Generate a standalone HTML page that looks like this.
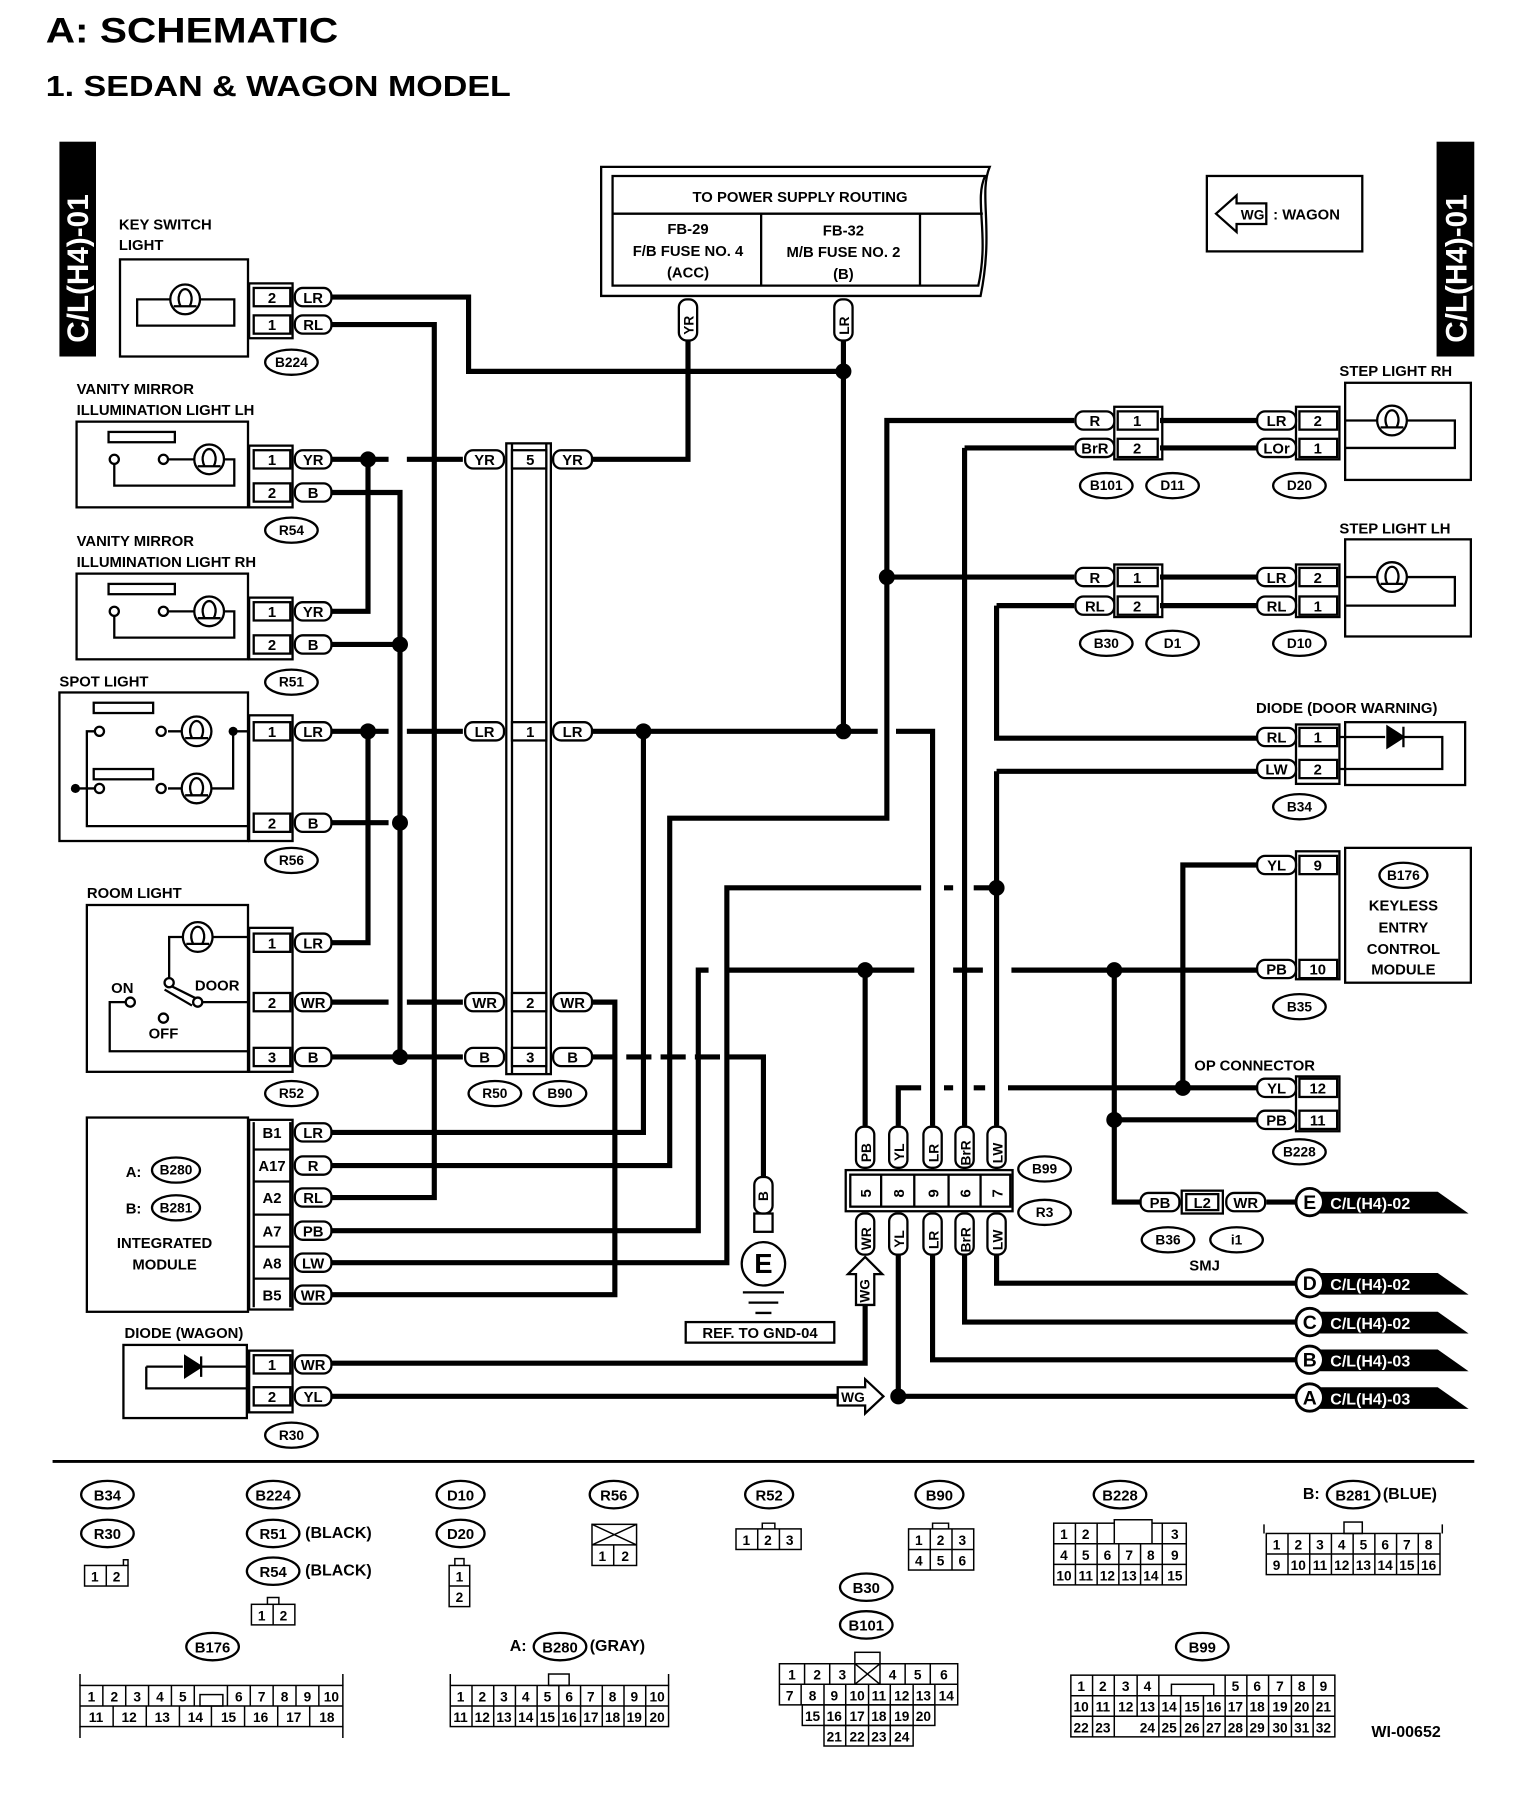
<!DOCTYPE html>
<html><head><meta charset="utf-8"><style>
html,body{margin:0;padding:0;background:#fff;width:1536px;height:1794px;overflow:hidden}
svg{display:block}
text{font-family:"Liberation Sans",sans-serif;font-weight:bold;fill:#000}
</style></head><body>
<svg width="1536" height="1794" viewBox="0 0 1344 1570" preserveAspectRatio="none" xmlns="http://www.w3.org/2000/svg">
<defs>
<g id="lamp"><circle r="13" fill="#fff" stroke="#000" stroke-width="2"/><path d="M-4,6 C-8,-2 -4,-9 0,-9 C4,-9 8,-2 4,6 M-10,6 H10" fill="none" stroke="#000" stroke-width="2"/></g>
</defs>
<text x="40" y="37" font-size="31" textLength="256" lengthAdjust="spacingAndGlyphs">A:  SCHEMATIC</text>
<text x="40" y="84" font-size="25" textLength="407" lengthAdjust="spacingAndGlyphs">1.  SEDAN &amp; WAGON MODEL</text>

<!-- side bars -->
<rect x="52" y="124" width="32" height="188" fill="#000"/>
<text transform="translate(77,300) rotate(-90)" font-size="26" style="fill:#fff">C/L(H4)-01</text>
<rect x="1257" y="124" width="33" height="188" fill="#000"/>
<text transform="translate(1283,300) rotate(-90)" font-size="26" style="fill:#fff">C/L(H4)-01</text>

<!-- power supply box -->
<g fill="none" stroke="#000" stroke-width="2">
<path d="M526,146 H866 C856,170 870,200 858,259 H526 Z"/>
<path d="M536,154 H862 C852,175 866,205 856,250 H536 Z"/>
<path d="M536,187 H860 M666,187 V250 M805,187 V250"/>
</g>
<g font-size="13" text-anchor="middle">
<text x="700" y="177">TO POWER SUPPLY ROUTING</text>
<text x="602" y="205">FB-29</text><text x="602" y="224">F/B FUSE NO. 4</text><text x="602" y="243">(ACC)</text>
<text x="738" y="206">FB-32</text><text x="738" y="225">M/B FUSE NO. 2</text><text x="738" y="244">(B)</text>
</g>

<!-- wagon legend -->
<rect x="1056" y="154" width="136" height="66" fill="none" stroke="#000" stroke-width="2"/>
<path d="M1064,187 L1082,171 V178 H1108 V196 H1082 V203 Z" fill="#fff" stroke="#000" stroke-width="2"/>
<text x="1096" y="192" font-size="12" text-anchor="middle">WG</text>
<text x="1114" y="192" font-size="13">: WAGON</text>

<!-- ===== WIRES ===== -->
<g fill="none" stroke="#000" stroke-width="4.5">
<path d="M290,260 H410 V325 H738"/>
<path d="M290,284 H380 V1048 H290"/>
<path d="M290,402 H340 M356,402 H405 M518,402 H602 V298"/>
<path d="M322,402 V535 H290"/>
<path d="M290,431 H350 V925"/>
<path d="M290,564 H350 M290,720 H340"/>
<path d="M290,640 H340 M356,640 H405 M518,640 H768 M784,640 H816 V985"/>
<path d="M322,640 V825 H290"/>
<path d="M738,298 V640"/>
<path d="M563,640 V991 H290"/>
<path d="M290,877 H340 M356,877 H405 M518,877 H538 V1133 H290"/>
<path d="M290,925 H405 M518,925 H540 M548,925 H570 M578,925 H600 M608,925 H630 M638,925 H668 V1032"/>
<path d="M290,1020 H586 V716 H776 V368 H940"/>
<path d="M776,505 H940"/>
<path d="M290,1077 H611 V849 H620 M636,849 H800 M834,849 H860 M885,849 H1100"/>
<path d="M757,849 V985"/>
<path d="M975,849 V1052 H998"/>
<path d="M975,980 H1100"/>
<path d="M290,1105 H636 V777 H806 M826,777 H834 M852,777 H872"/>
<path d="M872,675 V985 M872,675 H1100"/>
<path d="M844,392 V985 M844,392 H940"/>
<path d="M872,530 V646 H1100 M872,530 H940"/>
<path d="M1100,757 H1035 V952"/>
<path d="M786,985 V952 H806 M826,952 H834 M852,952 H862 M882,952 H1100"/>
<path d="M1015,368 H1100 M1015,392 H1100 M1015,505 H1100 M1015,530 H1100"/>
<path d="M757,1140 V1193 H290"/>
<path d="M786,1096 V1222 M290,1222 H735 M786,1222 H1134"/>
<path d="M816,1096 V1190 H1134"/>
<path d="M844,1096 V1157 H1134"/>
<path d="M872,1096 V1123 H1134"/>
<path d="M1108,1052 H1134"/>
</g>
<g fill="#000">
<circle cx="322" cy="402" r="7"/><circle cx="350" cy="564" r="7"/><circle cx="322" cy="640" r="7"/>
<circle cx="350" cy="720" r="7"/><circle cx="350" cy="925" r="7"/><circle cx="738" cy="325" r="7"/>
<circle cx="563" cy="640" r="7"/><circle cx="738" cy="640" r="7"/><circle cx="776" cy="505" r="7"/>
<circle cx="872" cy="777" r="7"/><circle cx="757" cy="849" r="7"/><circle cx="975" cy="849" r="7"/>
<circle cx="1035" cy="952" r="7"/><circle cx="975" cy="980" r="7"/><circle cx="786" cy="1222" r="7"/>
</g>

<!-- ===== COMPONENTS ===== -->
<g fill="none" stroke="#000" stroke-width="2">
<rect x="105" y="227" width="112" height="85"/>
<path d="M120,262 H205 V285 H120 Z" />
<rect x="67" y="369" width="150" height="75"/>
<rect x="95" y="378" width="58" height="9"/>
<path d="M100,402 V425 H205 V402 H196 M147,402 H170"/>
<circle cx="100" cy="402" r="4" fill="#fff"/><circle cx="143" cy="402" r="4" fill="#fff"/>
<rect x="67" y="502" width="150" height="75"/>
<rect x="95" y="511" width="58" height="9"/>
<path d="M100,535 V558 H205 V535 H196 M147,535 H170"/>
<circle cx="100" cy="535" r="4" fill="#fff"/><circle cx="143" cy="535" r="4" fill="#fff"/>
<rect x="52" y="606" width="165" height="130"/>
<rect x="82" y="615" width="52" height="9"/><rect x="82" y="673" width="52" height="9"/>
<path d="M87,640 H76 V723 H217 M204,640 H217 M204,640 V690 H184 M147,640 H160 M147,690 H160 M87,690 H66"/>
<circle cx="87" cy="640" r="4" fill="#fff"/><circle cx="141" cy="640" r="4" fill="#fff"/>
<circle cx="87" cy="690" r="4" fill="#fff"/><circle cx="141" cy="690" r="4" fill="#fff"/>
<rect x="76" y="792" width="141" height="146"/>
<path d="M148,860 V820 H160 M186,820 H217 M176,877 H217 M110,877 H96 V920 H217"/>
<path d="M148,862 L172,874 M144,866 L168,880"/>
<circle cx="148" cy="860" r="4" fill="#fff"/><circle cx="173" cy="877" r="4" fill="#fff"/>
<circle cx="114" cy="877" r="4" fill="#fff"/><circle cx="143" cy="891" r="4" fill="#fff"/>
<rect x="76" y="978" width="141" height="170"/>
<rect x="108" y="1177" width="108" height="64"/>
<path d="M128,1196 V1215 H216 M128,1196 H160 M176,1196 H216 M164,1196 H210"/>
<rect x="218" y="248" width="38" height="48"/><rect x="222" y="252" width="32" height="16"/><rect x="222" y="276" width="32" height="16"/>
<rect x="218" y="390" width="38" height="54"/><rect x="222" y="394" width="32" height="16"/><rect x="222" y="423" width="32" height="16"/>
<rect x="218" y="523" width="38" height="54"/><rect x="222" y="527" width="32" height="16"/><rect x="222" y="556" width="32" height="16"/>
<rect x="218" y="626" width="38" height="110"/><rect x="222" y="632" width="32" height="16"/><rect x="222" y="712" width="32" height="16"/>
<rect x="218" y="812" width="38" height="126"/><rect x="222" y="817" width="32" height="16"/><rect x="222" y="869" width="32" height="16"/><rect x="222" y="917" width="32" height="16"/>
<rect x="218" y="980" width="38" height="166"/>
<path d="M222,1006 H254 M222,1034 H254 M222,1063 H254 M222,1091 H254 M222,1119 H254 M222,982 V1144 M254,982 V1144"/>
<rect x="218" y="1182" width="38" height="54"/><rect x="222" y="1186" width="32" height="16"/><rect x="222" y="1214" width="32" height="16"/>
<rect x="443" y="388" width="39" height="552"/><path d="M448,388 V940 M478,388 V940"/>
<rect x="448" y="394" width="30" height="16" fill="#fff"/><rect x="448" y="632" width="30" height="16" fill="#fff"/>
<rect x="448" y="869" width="30" height="16" fill="#fff"/><rect x="448" y="917" width="30" height="16" fill="#fff"/>
<rect x="975" y="356" width="42" height="46"/><rect x="978" y="360" width="35" height="16"/><rect x="978" y="384" width="35" height="16"/>
<rect x="1134" y="356" width="38" height="46"/><rect x="1137" y="360" width="33" height="16"/><rect x="1137" y="384" width="33" height="16"/>
<rect x="975" y="494" width="42" height="46"/><rect x="978" y="497" width="35" height="16"/><rect x="978" y="522" width="35" height="16"/>
<rect x="1134" y="494" width="38" height="46"/><rect x="1137" y="497" width="33" height="16"/><rect x="1137" y="522" width="33" height="16"/>
<rect x="1134" y="634" width="38" height="52"/><rect x="1137" y="637" width="33" height="16"/><rect x="1137" y="665" width="33" height="16"/>
<rect x="1134" y="745" width="38" height="112"/><rect x="1137" y="749" width="33" height="16"/><rect x="1137" y="840" width="33" height="16"/>
<rect x="1134" y="942" width="38" height="48"/><rect x="1137" y="944" width="33" height="16"/><rect x="1137" y="972" width="33" height="16"/>
<rect x="1177" y="335" width="110" height="85"/><path d="M1177,368 H1205 M1231,368 H1273 V392 H1177"/>
<rect x="1177" y="472" width="110" height="85"/><path d="M1177,505 H1205 M1231,505 H1273 V530 H1177"/>
<rect x="1177" y="632" width="105" height="55"/><path d="M1172,645 H1212 M1228,645 H1262 V673 H1172"/>
<rect x="1177" y="742" width="110" height="118"/>
<rect x="740" y="1024" width="146" height="36"/><rect x="744" y="1028" width="140" height="28"/>
<path d="M771,1028 V1056 M800,1028 V1056 M830,1028 V1056 M858,1028 V1056"/>
<rect x="1034" y="1042" width="36" height="20"/><rect x="1038" y="1045" width="28" height="14"/>
<rect x="660" y="1062" width="16" height="16"/>
<circle cx="668" cy="1106" r="19"/>
<path d="M650,1131 H686 M655,1140 H681 M661,1149 H675"/>
<rect x="600" y="1157" width="130" height="18"/>
</g>
<use href="#lamp" x="162" y="262"/><use href="#lamp" x="183" y="402"/><use href="#lamp" x="183" y="535"/>
<use href="#lamp" x="172" y="640"/><use href="#lamp" x="172" y="690"/><use href="#lamp" x="173" y="820"/>
<use href="#lamp" x="1218" y="368"/><use href="#lamp" x="1218" y="505"/>
<circle cx="204" cy="640" r="4" fill="#000"/><circle cx="66" cy="690" r="4" fill="#000"/>
<path d="M176,1187 V1205 M176,1196 L162,1187 V1205 Z" fill="#000" stroke="#000" stroke-width="2"/>
<path d="M1228,636 V654 M1228,645 L1214,636 V654 Z" fill="#000" stroke="#000" stroke-width="2"/>
<path d="M757,1100 L772,1115 H765 V1142 H749 V1115 H742 Z" fill="#fff" stroke="#000" stroke-width="2"/>
<text transform="translate(761,1140) rotate(-90)" font-size="12">WG</text>
<path d="M773,1222 L757,1207 V1214 H733 V1230 H757 V1237 Z" fill="#fff" stroke="#000" stroke-width="2"/>
<text x="736" y="1227" font-size="12">WG</text>

<g font-size="13" text-anchor="middle">
<text x="238" y="265">2</text><text x="238" y="289">1</text>
<text x="238" y="407">1</text><text x="238" y="436">2</text>
<text x="238" y="540">1</text><text x="238" y="569">2</text>
<text x="238" y="645">1</text><text x="238" y="725">2</text>
<text x="238" y="830">1</text><text x="238" y="882">2</text><text x="238" y="930">3</text>
<text x="238" y="996">B1</text><text x="238" y="1025">A17</text><text x="238" y="1053">A2</text><text x="238" y="1082">A7</text><text x="238" y="1110">A8</text><text x="238" y="1138">B5</text>
<text x="238" y="1199">1</text><text x="238" y="1227">2</text>
<text x="464" y="407">5</text><text x="464" y="645">1</text><text x="464" y="882">2</text><text x="464" y="930">3</text>
<text x="995" y="373">1</text><text x="995" y="397">2</text><text x="995" y="510">1</text><text x="995" y="535">2</text>
<text x="1153" y="373">2</text><text x="1153" y="397">1</text><text x="1153" y="510">2</text><text x="1153" y="535">1</text>
<text x="1153" y="650">1</text><text x="1153" y="678">2</text><text x="1153" y="762">9</text><text x="1153" y="853">10</text>
<text x="1153" y="957">12</text><text x="1153" y="985">11</text>
<text x="1052" y="1057">L2</text>
<text x="668" y="1114" font-size="24">E</text>
<text x="665" y="1171">REF. TO GND-04</text>
<text x="1228" y="797">KEYLESS</text><text x="1228" y="816">ENTRY</text><text x="1228" y="835">CONTROL</text><text x="1228" y="853">MODULE</text>
<text x="144" y="1092">INTEGRATED</text><text x="144" y="1111">MODULE</text>
<text x="107" y="869">ON</text><text x="190" y="867">DOOR</text><text x="143" y="909">OFF</text>
<text x="1054" y="1112">SMJ</text>
</g>
<g font-size="13">
<text x="104" y="201">KEY SWITCH</text><text x="104" y="219">LIGHT</text>
<text x="67" y="345">VANITY MIRROR</text><text x="67" y="363">ILLUMINATION LIGHT LH</text>
<text x="67" y="478">VANITY MIRROR</text><text x="67" y="496">ILLUMINATION LIGHT RH</text>
<text x="52" y="601">SPOT LIGHT</text><text x="76" y="786">ROOM LIGHT</text><text x="109" y="1171">DIODE (WAGON)</text>
<text x="1172" y="329">STEP LIGHT RH</text><text x="1172" y="467">STEP LIGHT LH</text>
<text x="1099" y="624">DIODE (DOOR WARNING)</text><text x="1045" y="937">OP CONNECTOR</text>
<text x="110" y="1030">A:</text><text x="110" y="1062">B:</text>
</g>
<g font-size="13">
<text transform="translate(762,1048) rotate(-90)">5</text><text transform="translate(791,1048) rotate(-90)">8</text>
<text transform="translate(821,1048) rotate(-90)">9</text><text transform="translate(849,1048) rotate(-90)">6</text>
<text transform="translate(877,1048) rotate(-90)">7</text>
</g>

<g stroke="#000" stroke-width="2" fill="#fff">
<rect x="258" y="252" width="32" height="16" rx="7"/><rect x="258" y="276" width="32" height="16" rx="7"/>
<rect x="258" y="394" width="32" height="16" rx="7"/><rect x="258" y="423" width="32" height="16" rx="7"/>
<rect x="258" y="527" width="32" height="16" rx="7"/><rect x="258" y="556" width="32" height="16" rx="7"/>
<rect x="258" y="632" width="32" height="16" rx="7"/><rect x="258" y="712" width="32" height="16" rx="7"/>
<rect x="258" y="817" width="32" height="16" rx="7"/><rect x="258" y="869" width="32" height="16" rx="7"/><rect x="258" y="917" width="32" height="16" rx="7"/>
<rect x="258" y="983" width="32" height="16" rx="7"/><rect x="258" y="1012" width="32" height="16" rx="7"/><rect x="258" y="1040" width="32" height="16" rx="7"/>
<rect x="258" y="1069" width="32" height="16" rx="7"/><rect x="258" y="1097" width="32" height="16" rx="7"/><rect x="258" y="1125" width="32" height="16" rx="7"/>
<rect x="258" y="1186" width="32" height="16" rx="7"/><rect x="258" y="1214" width="32" height="16" rx="7"/>
<rect x="407" y="394" width="34" height="16" rx="7"/><rect x="484" y="394" width="34" height="16" rx="7"/>
<rect x="407" y="632" width="34" height="16" rx="7"/><rect x="484" y="632" width="34" height="16" rx="7"/>
<rect x="407" y="869" width="34" height="16" rx="7"/><rect x="484" y="869" width="34" height="16" rx="7"/>
<rect x="407" y="917" width="34" height="16" rx="7"/><rect x="484" y="917" width="34" height="16" rx="7"/>
<rect x="941" y="360" width="34" height="16" rx="7"/><rect x="941" y="384" width="34" height="16" rx="7"/>
<rect x="941" y="497" width="34" height="16" rx="7"/><rect x="941" y="522" width="34" height="16" rx="7"/>
<rect x="1100" y="360" width="34" height="16" rx="7"/><rect x="1100" y="384" width="34" height="16" rx="7"/>
<rect x="1100" y="497" width="34" height="16" rx="7"/><rect x="1100" y="522" width="34" height="16" rx="7"/>
<rect x="1100" y="637" width="34" height="16" rx="7"/><rect x="1100" y="665" width="34" height="16" rx="7"/>
<rect x="1100" y="749" width="34" height="16" rx="7"/><rect x="1100" y="840" width="34" height="16" rx="7"/>
<rect x="1100" y="944" width="34" height="16" rx="7"/><rect x="1100" y="972" width="34" height="16" rx="7"/>
<rect x="998" y="1044" width="34" height="16" rx="7"/><rect x="1073" y="1044" width="34" height="16" rx="7"/>
<rect x="594" y="262" width="16" height="36" rx="7"/><rect x="730" y="262" width="16" height="36" rx="7"/>
<rect x="749" y="986" width="16" height="36" rx="7"/><rect x="778" y="986" width="16" height="36" rx="7"/>
<rect x="808" y="986" width="16" height="36" rx="7"/><rect x="836" y="986" width="16" height="36" rx="7"/><rect x="864" y="986" width="16" height="36" rx="7"/>
<rect x="749" y="1062" width="16" height="36" rx="7"/><rect x="778" y="1062" width="16" height="36" rx="7"/>
<rect x="808" y="1062" width="16" height="36" rx="7"/><rect x="836" y="1062" width="16" height="36" rx="7"/><rect x="864" y="1062" width="16" height="36" rx="7"/>
<rect x="660" y="1030" width="16" height="32" rx="7"/>
</g>
<g font-size="13" text-anchor="middle">
<text x="274" y="265">LR</text><text x="274" y="289">RL</text><text x="274" y="407">YR</text><text x="274" y="436">B</text>
<text x="274" y="540">YR</text><text x="274" y="569">B</text><text x="274" y="645">LR</text><text x="274" y="725">B</text>
<text x="274" y="830">LR</text><text x="274" y="882">WR</text><text x="274" y="930">B</text>
<text x="274" y="996">LR</text><text x="274" y="1025">R</text><text x="274" y="1053">RL</text><text x="274" y="1082">PB</text><text x="274" y="1110">LW</text><text x="274" y="1138">WR</text>
<text x="274" y="1199">WR</text><text x="274" y="1227">YL</text>
<text x="424" y="407">YR</text><text x="501" y="407">YR</text><text x="424" y="645">LR</text><text x="501" y="645">LR</text>
<text x="424" y="882">WR</text><text x="501" y="882">WR</text><text x="424" y="930">B</text><text x="501" y="930">B</text>
<text x="958" y="373">R</text><text x="958" y="397">BrR</text><text x="958" y="510">R</text><text x="958" y="535">RL</text>
<text x="1117" y="373">LR</text><text x="1117" y="397">LOr</text><text x="1117" y="510">LR</text><text x="1117" y="535">RL</text>
<text x="1117" y="650">RL</text><text x="1117" y="678">LW</text><text x="1117" y="762">YL</text><text x="1117" y="853">PB</text>
<text x="1117" y="957">YL</text><text x="1117" y="985">PB</text>
<text x="1015" y="1057">PB</text><text x="1090" y="1057">WR</text>
</g>
<g font-size="12">
<text transform="translate(607,293) rotate(-90)">YR</text><text transform="translate(743,293) rotate(-90)">LR</text>
<text transform="translate(762,1017) rotate(-90)">PB</text><text transform="translate(791,1016) rotate(-90)">YL</text>
<text transform="translate(821,1017) rotate(-90)">LR</text><text transform="translate(849,1020) rotate(-90)">BrR</text>
<text transform="translate(877,1018) rotate(-90)">LW</text>
<text transform="translate(762,1094) rotate(-90)">WR</text><text transform="translate(791,1092) rotate(-90)">YL</text>
<text transform="translate(821,1093) rotate(-90)">LR</text><text transform="translate(849,1096) rotate(-90)">BrR</text>
<text transform="translate(877,1094) rotate(-90)">LW</text>
<text transform="translate(672,1051) rotate(-90)">B</text>
</g>

<g stroke="#000" stroke-width="2" fill="#fff">
<ellipse cx="255" cy="317" rx="23" ry="11"/><ellipse cx="255" cy="464" rx="23" ry="11"/><ellipse cx="255" cy="597" rx="23" ry="11"/>
<ellipse cx="255" cy="753" rx="23" ry="11"/><ellipse cx="255" cy="957" rx="23" ry="11"/><ellipse cx="255" cy="1256" rx="23" ry="11"/>
<ellipse cx="433" cy="957" rx="23" ry="11"/><ellipse cx="490" cy="957" rx="23" ry="11"/>
<ellipse cx="154" cy="1024" rx="21" ry="11"/><ellipse cx="154" cy="1057" rx="21" ry="11"/>
<ellipse cx="968" cy="425" rx="23" ry="11"/><ellipse cx="1026" cy="425" rx="23" ry="11"/><ellipse cx="1137" cy="425" rx="23" ry="11"/>
<ellipse cx="968" cy="563" rx="23" ry="11"/><ellipse cx="1026" cy="563" rx="23" ry="11"/><ellipse cx="1137" cy="563" rx="23" ry="11"/>
<ellipse cx="1137" cy="706" rx="23" ry="11"/><ellipse cx="1228" cy="766" rx="21" ry="11"/><ellipse cx="1137" cy="881" rx="23" ry="11"/>
<ellipse cx="1137" cy="1008" rx="23" ry="11"/><ellipse cx="914" cy="1023" rx="23" ry="11"/><ellipse cx="914" cy="1061" rx="23" ry="11"/>
<ellipse cx="1022" cy="1085" rx="23" ry="11"/><ellipse cx="1082" cy="1085" rx="23" ry="11"/>
</g>
<g font-size="12" text-anchor="middle">
<text x="255" y="321">B224</text><text x="255" y="468">R54</text><text x="255" y="601">R51</text><text x="255" y="757">R56</text>
<text x="255" y="961">R52</text><text x="255" y="1260">R30</text><text x="433" y="961">R50</text><text x="490" y="961">B90</text>
<text x="154" y="1028">B280</text><text x="154" y="1061">B281</text>
<text x="968" y="429">B101</text><text x="1026" y="429">D11</text><text x="1137" y="429">D20</text>
<text x="968" y="567">B30</text><text x="1026" y="567">D1</text><text x="1137" y="567">D10</text>
<text x="1137" y="710">B34</text><text x="1228" y="770">B176</text><text x="1137" y="885">B35</text><text x="1137" y="1012">B228</text>
<text x="914" y="1027">B99</text><text x="914" y="1065">R3</text><text x="1022" y="1089">B36</text><text x="1082" y="1089">i1</text>
</g>

<g>
<path d="M1150,1043 H1258 L1285,1062 H1150 Z" fill="#000"/>
<path d="M1150,1114 H1258 L1285,1133 H1150 Z" fill="#000"/>
<path d="M1150,1148 H1258 L1285,1167 H1150 Z" fill="#000"/>
<path d="M1150,1181 H1258 L1285,1200 H1150 Z" fill="#000"/>
<path d="M1150,1214 H1258 L1285,1233 H1150 Z" fill="#000"/>
<g fill="#fff" stroke="#000" stroke-width="2.5">
<circle cx="1146" cy="1052" r="12"/><circle cx="1146" cy="1123" r="12"/><circle cx="1146" cy="1157" r="12"/>
<circle cx="1146" cy="1190" r="12"/><circle cx="1146" cy="1223" r="12"/>
</g>
<g font-size="17" text-anchor="middle">
<text x="1146" y="1058">E</text><text x="1146" y="1129">D</text><text x="1146" y="1163">C</text><text x="1146" y="1196">B</text><text x="1146" y="1229">A</text>
</g>
<g font-size="14">
<text x="1164" y="1058" style="fill:#fff">C/L(H4)-02</text><text x="1164" y="1129" style="fill:#fff">C/L(H4)-02</text>
<text x="1164" y="1163" style="fill:#fff">C/L(H4)-02</text><text x="1164" y="1196" style="fill:#fff">C/L(H4)-03</text>
<text x="1164" y="1229" style="fill:#fff">C/L(H4)-03</text>
</g>
</g>

<line x1="46" y1="1279" x2="1290" y2="1279" stroke="#000" stroke-width="2.5"/>

<g stroke="#000" stroke-width="2" fill="#fff">
<ellipse cx="94" cy="1308" rx="23" ry="12"/><ellipse cx="94" cy="1342" rx="23" ry="12"/>
<ellipse cx="239" cy="1308" rx="23" ry="12"/><ellipse cx="239" cy="1342" rx="23" ry="12"/><ellipse cx="239" cy="1375" rx="23" ry="12"/>
<ellipse cx="403" cy="1308" rx="21" ry="12"/><ellipse cx="403" cy="1342" rx="21" ry="12"/>
<ellipse cx="537" cy="1308" rx="21" ry="12"/><ellipse cx="673" cy="1308" rx="21" ry="12"/><ellipse cx="822" cy="1308" rx="21" ry="12"/>
<ellipse cx="980" cy="1308" rx="23" ry="12"/><ellipse cx="1184" cy="1308" rx="23" ry="12"/>
<ellipse cx="758" cy="1389" rx="23" ry="12"/><ellipse cx="758" cy="1422" rx="23" ry="12"/>
<ellipse cx="186" cy="1441" rx="23" ry="12"/><ellipse cx="490" cy="1441" rx="23" ry="12"/><ellipse cx="1052" cy="1441" rx="23" ry="12"/>
</g>
<g font-size="13" text-anchor="middle">
<text x="94" y="1313">B34</text><text x="94" y="1347">R30</text><text x="239" y="1313">B224</text><text x="239" y="1347">R51</text><text x="239" y="1380">R54</text>
<text x="403" y="1313">D10</text><text x="403" y="1347">D20</text><text x="537" y="1313">R56</text><text x="673" y="1313">R52</text><text x="822" y="1313">B90</text>
<text x="980" y="1313">B228</text><text x="1184" y="1313">B281</text><text x="758" y="1394">B30</text><text x="758" y="1427">B101</text>
<text x="186" y="1446">B176</text><text x="490" y="1446">B280</text><text x="1052" y="1446">B99</text>
</g>
<g font-size="14">
<text x="267" y="1346">(BLACK)</text><text x="267" y="1379">(BLACK)</text>
<text x="1140" y="1312">B:</text><text x="1210" y="1312">(BLUE)</text>
<text x="446" y="1445">A:</text><text x="516" y="1445">(GRAY)</text>
<text x="1200" y="1520" font-weight="normal">WI-00652</text>
</g>

<g fill="none" stroke="#000" stroke-width="1.3">
<rect x="74" y="1370" width="38" height="18"/><path d="M93,1370 V1388 M108,1370 V1365 H112 V1370"/>
<rect x="220" y="1404" width="38" height="18"/><path d="M239,1404 V1422 M234,1404 V1398 H244 V1404"/>
<rect x="393" y="1370" width="18" height="36"/><path d="M393,1388 H411 M398,1370 V1364 H406 V1370"/>
<rect x="518" y="1334" width="39" height="36"/><path d="M518,1334 L557,1352 M557,1334 L518,1352 M518,1352 H557 M537,1352 V1370"/>
<rect x="644" y="1338" width="57" height="18"/><path d="M663,1338 V1356 M682,1338 V1356 M667,1338 V1333 H678 V1338"/>
<rect x="795" y="1338" width="57" height="36"/><path d="M795,1356 H852 M814,1338 V1374 M833,1338 V1374 M816,1338 V1333 H830 V1338"/>
<rect x="922" y="1333" width="116" height="54"/>
<path d="M922,1351 H1038 M922,1369 H1038 M941,1333 V1387 M960,1333 V1387 M979,1351 V1387 M998,1351 V1387 M1017,1333 V1387"/>
<rect x="975" y="1330" width="33" height="21" fill="#fff"/>
<rect x="1108" y="1342" width="152" height="36"/>
<path d="M1108,1360 H1260 M1127,1342 V1378 M1146,1342 V1378 M1165,1342 V1378 M1184,1342 V1378 M1203,1342 V1378 M1222,1342 V1378 M1241,1342 V1378 M1106,1342 V1334 M1262,1342 V1334"/>
<rect x="1176" y="1332" width="16" height="10"/>
<rect x="70" y="1475" width="230" height="36"/>
<path d="M70,1493 H300 M90,1475 V1493 M110,1475 V1493 M130,1475 V1493 M150,1475 V1493 M170,1475 V1493 M199,1475 V1493 M219,1475 V1493 M239,1475 V1493 M259,1475 V1493 M279,1475 V1493 M99,1493 V1511 M128,1493 V1511 M157,1493 V1511 M185,1493 V1511 M214,1493 V1511 M243,1493 V1511 M271,1493 V1511 M70,1475 V1465 M300,1475 V1465 M70,1511 V1521 M300,1511 V1521"/>
<rect x="175" y="1483" width="20" height="10"/>
<rect x="394" y="1475" width="191" height="36"/>
<path d="M394,1493 H585 M413,1475 V1511 M432,1475 V1511 M451,1475 V1511 M470,1475 V1511 M489,1475 V1511 M508,1475 V1511 M527,1475 V1511 M546,1475 V1511 M565,1475 V1511 M394,1475 V1465 M585,1475 V1465"/>
<rect x="480" y="1465" width="18" height="10"/>
<rect x="682" y="1456" width="156" height="36"/>
<path d="M682,1474 H838 M704,1456 V1474 M726,1456 V1474 M748,1456 V1474 M770,1456 V1474 M792,1456 V1474 M814,1456 V1474 M748,1456 L770,1474 M770,1456 L748,1474 M701,1474 V1492 M721,1474 V1492 M740,1474 V1492 M760,1474 V1492 M779,1474 V1492 M799,1474 V1492 M818,1474 V1492"/>
<rect x="748" y="1446" width="22" height="10"/>
<rect x="702" y="1492" width="116" height="18"/>
<path d="M721,1492 V1510 M740,1492 V1510 M760,1492 V1510 M779,1492 V1510 M799,1492 V1510"/>
<rect x="721" y="1510" width="78" height="18"/>
<path d="M740,1510 V1528 M760,1510 V1528 M779,1510 V1528"/>
<rect x="937" y="1466" width="231" height="54"/>
<path d="M937,1484 H1168 M937,1502 H1168 M956,1466 V1520 M975,1466 V1520 M995,1466 V1502 M1014,1466 V1520 M1033,1484 V1520 M1053,1484 V1520 M1072,1466 V1520 M1091,1466 V1520 M1110,1466 V1520 M1130,1466 V1520 M1149,1466 V1520"/>
<rect x="1025" y="1474" width="37" height="10" fill="#fff"/>
</g>
<g font-size="12" text-anchor="middle" font-weight="normal">
<text x="83" y="1384">1</text><text x="102" y="1384">2</text>
<text x="229" y="1418">1</text><text x="248" y="1418">2</text>
<text x="402" y="1384">1</text><text x="402" y="1402">2</text>
<text x="527" y="1366">1</text><text x="547" y="1366">2</text>
<text x="653" y="1352">1</text><text x="672" y="1352">2</text><text x="691" y="1352">3</text>
<text x="804" y="1352">1</text><text x="823" y="1352">2</text><text x="842" y="1352">3</text><text x="804" y="1370">4</text><text x="823" y="1370">5</text><text x="842" y="1370">6</text>
<text x="931" y="1347">1</text><text x="950" y="1347">2</text><text x="1028" y="1347">3</text>
<text x="931" y="1365">4</text><text x="950" y="1365">5</text><text x="969" y="1365">6</text><text x="988" y="1365">7</text><text x="1007" y="1365">8</text><text x="1028" y="1365">9</text>
<text x="931" y="1383">10</text><text x="950" y="1383">11</text><text x="969" y="1383">12</text><text x="988" y="1383">13</text><text x="1007" y="1383">14</text><text x="1028" y="1383">15</text>
<text x="1117" y="1356">1</text><text x="1136" y="1356">2</text><text x="1155" y="1356">3</text><text x="1174" y="1356">4</text><text x="1193" y="1356">5</text><text x="1212" y="1356">6</text><text x="1231" y="1356">7</text><text x="1250" y="1356">8</text>
<text x="1117" y="1374">9</text><text x="1136" y="1374">10</text><text x="1155" y="1374">11</text><text x="1174" y="1374">12</text><text x="1193" y="1374">13</text><text x="1212" y="1374">14</text><text x="1231" y="1374">15</text><text x="1250" y="1374">16</text>
<text x="80" y="1489">1</text><text x="100" y="1489">2</text><text x="120" y="1489">3</text><text x="140" y="1489">4</text><text x="160" y="1489">5</text><text x="209" y="1489">6</text><text x="229" y="1489">7</text><text x="249" y="1489">8</text><text x="269" y="1489">9</text><text x="290" y="1489">10</text>
<text x="84" y="1507">11</text><text x="113" y="1507">12</text><text x="142" y="1507">13</text><text x="171" y="1507">14</text><text x="200" y="1507">15</text><text x="228" y="1507">16</text><text x="257" y="1507">17</text><text x="286" y="1507">18</text>
<text x="403" y="1489">1</text><text x="422" y="1489">2</text><text x="441" y="1489">3</text><text x="460" y="1489">4</text><text x="479" y="1489">5</text><text x="498" y="1489">6</text><text x="517" y="1489">7</text><text x="536" y="1489">8</text><text x="555" y="1489">9</text><text x="575" y="1489">10</text>
<text x="403" y="1507">11</text><text x="422" y="1507">12</text><text x="441" y="1507">13</text><text x="460" y="1507">14</text><text x="479" y="1507">15</text><text x="498" y="1507">16</text><text x="517" y="1507">17</text><text x="536" y="1507">18</text><text x="555" y="1507">19</text><text x="575" y="1507">20</text>
<text x="693" y="1470">1</text><text x="715" y="1470">2</text><text x="737" y="1470">3</text><text x="781" y="1470">4</text><text x="803" y="1470">5</text><text x="826" y="1470">6</text>
<text x="691" y="1488">7</text><text x="711" y="1488">8</text><text x="730" y="1488">9</text><text x="750" y="1488">10</text><text x="769" y="1488">11</text><text x="789" y="1488">12</text><text x="808" y="1488">13</text><text x="828" y="1488">14</text>
<text x="711" y="1506">15</text><text x="730" y="1506">16</text><text x="750" y="1506">17</text><text x="769" y="1506">18</text><text x="789" y="1506">19</text><text x="808" y="1506">20</text>
<text x="730" y="1524">21</text><text x="750" y="1524">22</text><text x="769" y="1524">23</text><text x="789" y="1524">24</text>
<text x="946" y="1480">1</text><text x="965" y="1480">2</text><text x="985" y="1480">3</text><text x="1004" y="1480">4</text><text x="1081" y="1480">5</text><text x="1100" y="1480">6</text><text x="1120" y="1480">7</text><text x="1139" y="1480">8</text><text x="1158" y="1480">9</text>
<text x="946" y="1498">10</text><text x="965" y="1498">11</text><text x="985" y="1498">12</text><text x="1004" y="1498">13</text><text x="1023" y="1498">14</text><text x="1043" y="1498">15</text><text x="1062" y="1498">16</text><text x="1081" y="1498">17</text><text x="1100" y="1498">18</text><text x="1120" y="1498">19</text><text x="1139" y="1498">20</text><text x="1158" y="1498">21</text>
<text x="946" y="1516">22</text><text x="965" y="1516">23</text><text x="1004" y="1516">24</text><text x="1023" y="1516">25</text><text x="1043" y="1516">26</text><text x="1062" y="1516">27</text><text x="1081" y="1516">28</text><text x="1100" y="1516">29</text><text x="1120" y="1516">30</text><text x="1139" y="1516">31</text><text x="1158" y="1516">32</text>
</g>
</svg>
</body></html>
